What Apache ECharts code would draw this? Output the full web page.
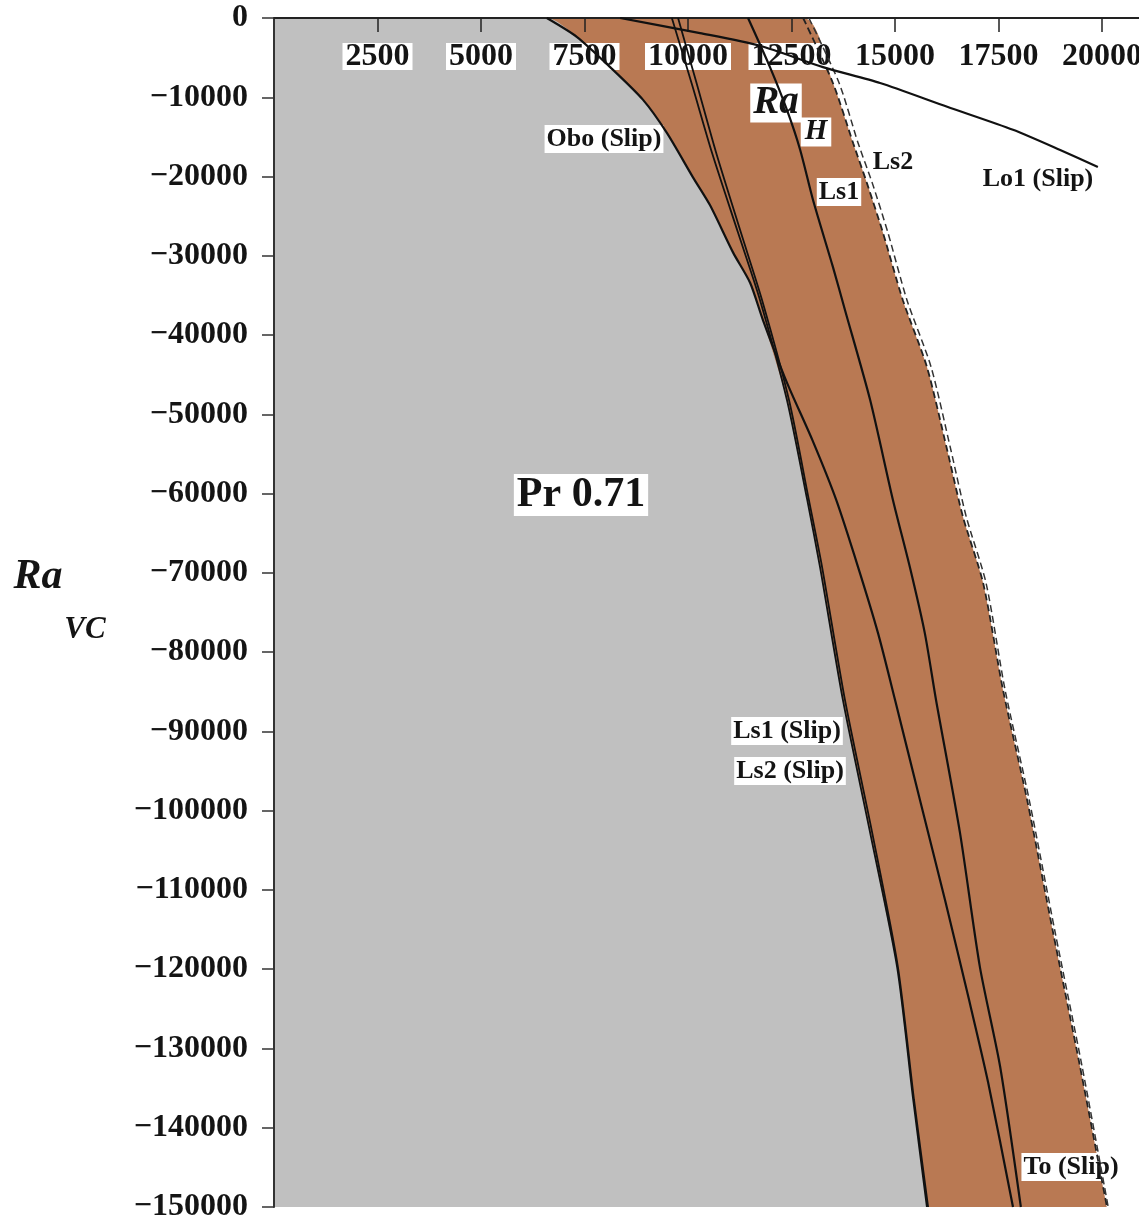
<!DOCTYPE html>
<html>
<head>
<meta charset="utf-8">
<script src="https://cdn.jsdelivr.net/npm/echarts@6/dist/echarts.min.js"></script>
<style>
  html, body { margin: 0; padding: 0; background: #fff; }
  #chart { width: 1139px; height: 1224px; }
</style>
</head>
<body>
<div id="chart"></div>
<script>
// Stability curves, each point is [Ra_H, Ra_VC]
const oboSlip = [
  [6590, 0], [7320, -2400], [8120, -6200], [8910, -10300], [9490, -14500],
  [10120, -20100], [10530, -23600], [11090, -29600], [11500, -33400],
  [11810, -38100], [12390, -46000], [13000, -53200], [13580, -60800],
  [14110, -69300], [14590, -77600], [15000, -86000], [15600, -98600],
  [16210, -111300], [16790, -123900], [17250, -134300], [17850, -150000]
];
const ls1Slip = [
  [9610, 0], [10100, -8450], [10580, -17000], [11210, -27100], [11740, -35600],
  [12390, -48200], [12880, -60800], [13190, -69300], [13740, -86000],
  [14400, -102800], [15050, -119700], [15440, -136500], [15770, -150000]
];
const ls2Slip = [
  [9760, 0], [10220, -8450], [10680, -17000], [11280, -27100], [11790, -35600],
  [12440, -48200], [12920, -60800], [13240, -69300], [13790, -86000],
  [14450, -102800], [15070, -119700], [15460, -136500], [15800, -150000]
];
const toSlip = [
  [11450, 0], [11980, -6200], [12390, -11600], [12710, -16650], [13020, -22960],
  [13500, -31400], [13790, -36800], [14400, -48200], [14950, -60800],
  [15360, -69300], [15720, -77600], [15990, -86000], [16570, -102800],
  [17050, -119700], [17540, -132300], [18040, -150000]
];
const ls1 = [
  [12780, 0], [13500, -8200], [13990, -15800], [14320, -20800], [14710, -27100],
  [15190, -35600], [15770, -44000], [16260, -54500], [16640, -62900],
  [17130, -71300], [17610, -84800], [18190, -98600], [18820, -115400],
  [19470, -132300], [20120, -150000]
];
const ls2 = [
  [12920, 0], [13650, -8200], [14110, -15800], [14450, -20800], [14830, -27100],
  [15290, -35600], [15870, -44000], [16350, -54500], [16720, -62900],
  [17200, -71300], [17660, -84800], [18240, -98600], [18870, -115400],
  [19520, -132300], [20150, -150000]
];
const lo1Slip = [
  [8360, 0], [10290, -1900], [11740, -3500], [13260, -6200], [14640, -8200],
  [16260, -11200], [17850, -14100], [18990, -16650], [19900, -18800]
];

// Axis ranges and tick steps
const raHRange = [0, 21000];
const raHStep = 2500;
const raVCRange = [-150000, 0];
const raVCStep = 10000;

const SERIF = '"Liberation Serif", "Times New Roman", serif';
const GREY = '#c0c0c0';
const BROWN = '#b97953';
const SMOOTH = 0.25;

// Interpolated Ra_H of a curve at a given Ra_VC (curves run from top to bottom)
function xAt(curve, y) {
  for (let i = 0; i < curve.length - 1; i++) {
    const [x0, y0] = curve[i], [x1, y1] = curve[i + 1];
    if (y <= y0 && y >= y1) {
      const t = (y0 - y) / (y0 - y1);
      return x0 + t * (x1 - x0);
    }
  }
  return curve[curve.length - 1][0];
}

// Grey (stable) region: left of whichever slip curve comes first
const edgeYs = Array.from(new Set(oboSlip.concat(ls1Slip).map(p => p[1]))).sort((a, b) => b - a);
const greyEdge = [[0, 0]].concat(edgeYs.map(y => [Math.min(xAt(oboSlip, y), xAt(ls1Slip, y)), y]));
// Brown region: up to the no-slip Ls1 boundary
const brownEdge = [[0, 0]].concat(ls1);

function areaSeries(data, color) {
  return {
    type: 'line', data, symbol: 'none', silent: true, z: 1, smooth: SMOOTH,
    lineStyle: { width: 0 },
    areaStyle: { color, opacity: 1, origin: 'start' }
  };
}
function curveSeries(name, data, extra) {
  return Object.assign({
    type: 'line', name, data, symbol: 'none', silent: true, z: 4, smooth: SMOOTH,
    lineStyle: { color: '#111', width: 2.2 }
  }, extra || {});
}

function label(text, x, y, size, opts) {
  opts = opts || {};
  return {
    type: 'text', x, y, z: 3,
    style: {
      text,
      font: (opts.italic ? 'italic ' : '') + 'bold ' + size + 'px ' + SERIF,
      fill: '#141414',
      align: 'center', verticalAlign: 'middle',
      backgroundColor: opts.noBg ? null : '#fff',
      padding: opts.padding || [1, 2]
    }
  };
}

const chart = echarts.init(document.getElementById('chart'), null, { renderer: 'canvas' });
chart.setOption({
  animation: false,
  backgroundColor: '#fff',
  grid: { left: 274, top: 18, width: 869.4, height: 1189, outerBoundsMode: 'none', containLabel: false },
  xAxis: {
    type: 'value', position: 'top',
    min: raHRange[0], max: raHRange[1], interval: raHStep,
    z: 2,
    axisLine: { onZero: false, lineStyle: { color: '#222', width: 2 } },
    axisTick: { inside: true, length: 14, lineStyle: { color: '#222', width: 1.5 } },
    axisLabel: {
      inside: true, margin: 25, showMinLabel: false, showMaxLabel: false,
      fontFamily: SERIF, fontWeight: 'bold', fontSize: 32, color: '#141414',
      backgroundColor: '#fff', lineHeight: 27, padding: [0, 3],
      formatter: v => String(v)
    },
    splitLine: { show: false }
  },
  yAxis: {
    type: 'value',
    min: raVCRange[0], max: raVCRange[1], interval: raVCStep,
    z: 2,
    axisLine: { show: true, onZero: false, lineStyle: { color: '#333', width: 2 } },
    axisTick: { show: true, length: 12, lineStyle: { color: '#333', width: 1.5 } },
    axisLabel: {
      margin: 26, fontFamily: SERIF, fontWeight: 'bold', fontSize: 32, color: '#141414',
      formatter: v => (v === 0 ? '0' : '\u2212' + Math.abs(v))
    },
    splitLine: { show: false }
  },
  series: [
    areaSeries(brownEdge, BROWN),
    areaSeries(greyEdge, GREY),
    curveSeries('Obo (Slip)', oboSlip),
    curveSeries('Ls1 (Slip)', ls1Slip, { lineStyle: { color: '#111', width: 1.8 } }),
    curveSeries('Ls2 (Slip)', ls2Slip, { lineStyle: { color: '#111', width: 1.8 } }),
    curveSeries('To (Slip)', toSlip),
    curveSeries('Ls1', ls1, { lineStyle: { color: '#222', width: 1.8, type: [7, 4] } }),
    curveSeries('Ls2', ls2, { lineStyle: { color: '#333', width: 1.5, type: [7, 4] } }),
    curveSeries('Lo1 (Slip)', lo1Slip)
  ],
  graphic: [
    label('Obo (Slip)', 604, 139, 26),
    label('Lo1 (Slip)', 1038, 179, 26),
    label('Ls1', 839, 192, 26),
    label('Ls2', 893, 162, 26),
    label('Ls1 (Slip)', 787, 731, 26),
    label('Ls2 (Slip)', 790, 771, 26),
    label('To (Slip)', 1071, 1167, 26),
    label('Pr 0.71', 581, 495, 42, { padding: [0, 3] }),
    // Ra_H axis title
    label('Ra', 776, 103, 39, { italic: true, padding: [0, 3] }),
    label('H', 816, 132, 29, { italic: true, padding: [0, 4] }),
    // Ra_VC axis title
    label('Ra', 38, 577, 42, { italic: true, noBg: true }),
    label('VC', 85, 630, 31, { italic: true, noBg: true })
  ]
});
</script>
</body>
</html>
